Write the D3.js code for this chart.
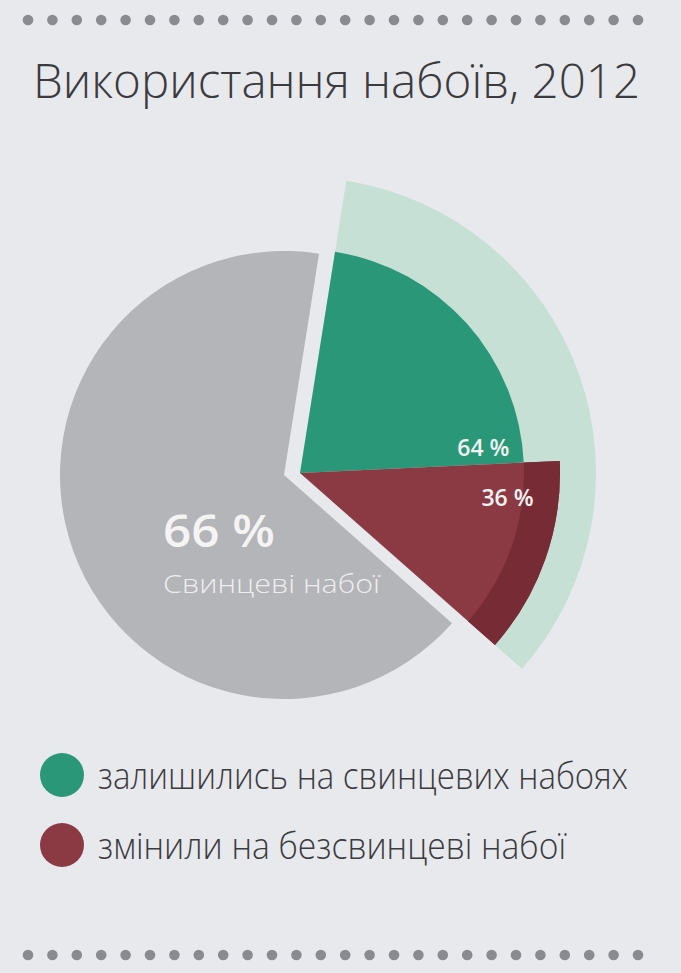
<!DOCTYPE html>
<html>
<head>
  <meta charset="utf-8">
  <script src="https://cdnjs.cloudflare.com/ajax/libs/d3/7.8.5/d3.min.js" type="text/javascript"></script>
  <style>
    body { margin: 0; background: #e8e9ed; }
    svg { display: block; }
  </style>
</head>
<body>
  <svg id="chart" style="width:681px;height:973px;"></svg>
  <script>

var title = "Використання набоїв, 2012";

// main split: lead-free part first, then lead
var mainLabels = ["Безсвинцеві набої", "Свинцеві набої"];
var mainValues = [34, 66];

// breakdown of the 34% slice
var subLabels = ["залишились на свинцевих набоях", "змінили на безсвинцеві набої"];
var subValues = [64, 36];

var width = 681;
var height = 973;
var deg = Math.PI / 180;
var startAt = 9 * deg;

var colors = {
  lead: "#b4b5b8",
  ring: "#c6e0d6",
  sub: ["#2a9878", "#8b3a44"],
  subDark: "#772b34",
  text: "#3b3b3e"
};

var svg = d3.select("#chart")
    .attr("width", width)
    .attr("height", height);

// dotted rules top and bottom
var dotX = d3.scalePoint().domain(d3.range(26)).range([28, 638]);
[20, 955].forEach(function(y) {
  svg.append("g").selectAll("circle")
    .data(dotX.domain())
    .enter().append("circle")
    .attr("cx", function(d) { return dotX(d); })
    .attr("cy", y)
    .attr("r", 5.3)
    .style("fill", "#8a8b90");
});

svg.append("text")
    .attr("x", 33)
    .attr("y", 98)
    .attr("textLength", 607)
    .attr("lengthAdjust", "spacingAndGlyphs")
    .style("font-family", "'Open Sans', sans-serif")
    .style("font-weight", 300)
    .style("font-size", "48px")
    .style("fill", colors.text)
    .text(title);

var pie = d3.pie()
    .sort(null)
    .startAngle(startAt)
    .endAngle(startAt + 2 * Math.PI);

var slices = pie(mainValues);
var free = slices[0];
var lead = slices[1];

// lead slice
var leadG = svg.append("g").attr("transform", "translate(284,475)");
leadG.append("path")
    .attr("d", d3.arc().innerRadius(0).outerRadius(224)(lead))
    .style("fill", colors.lead);

leadG.append("text")
    .attr("x", -121)
    .attr("y", 72)
    .attr("textLength", 112)
    .attr("lengthAdjust", "spacingAndGlyphs")
    .style("font-family", "'Open Sans', sans-serif")
    .style("font-weight", 600)
    .style("font-size", "46px")
    .style("fill", "#f4f4f4")
    .text(lead.value + " %");

leadG.append("text")
    .attr("x", -121)
    .attr("y", 118)
    .attr("textLength", 217)
    .attr("lengthAdjust", "spacingAndGlyphs")
    .style("font-family", "'Open Sans', sans-serif")
    .style("font-weight", 300)
    .style("font-size", "25px")
    .style("fill", "#eeeeee")
    .text(mainLabels[1]);

// exploded slice
var freeG = svg.append("g").attr("transform", "translate(300,473)");
freeG.append("path")
    .attr("d", d3.arc().innerRadius(0).outerRadius(296)(free))
    .style("fill", colors.ring);

var subPie = d3.pie()
    .sort(null)
    .startAngle(free.startAngle)
    .endAngle(free.endAngle);

var subSlices = subPie(subValues);
var subRadius = [224, 260];

freeG.selectAll(".sub")
    .data(subSlices)
    .enter().append("path")
    .attr("class", "sub")
    .attr("d", function(d, i) { return d3.arc().innerRadius(0).outerRadius(subRadius[i])(d); })
    .style("fill", function(d, i) { return colors.sub[i]; });

// part of the red sector that lies over the light ring
freeG.append("path")
    .attr("d", d3.arc().innerRadius(subRadius[0]).outerRadius(subRadius[1])(subSlices[1]))
    .style("fill", colors.subDark);

// value labels near the split between the two sectors
var labelPos = [
  { a: subSlices[0].endAngle - 5 * deg, r: 185 },
  { a: subSlices[1].startAngle + 9.5 * deg, r: 209 }
];
freeG.selectAll(".val")
    .data(subSlices)
    .enter().append("text")
    .attr("class", "val")
    .attr("x", function(d, i) { return labelPos[i].r * Math.sin(labelPos[i].a); })
    .attr("y", function(d, i) { return -labelPos[i].r * Math.cos(labelPos[i].a) + 8; })
    .attr("text-anchor", "middle")
    .style("font-family", "'Open Sans', sans-serif")
    .style("font-weight", 600)
    .style("font-size", "23px")
    .style("fill", "#f2f2f2")
    .text(function(d) { return d.value + " %"; });

// legend
var legend = svg.append("g").selectAll("g")
    .data(subLabels)
    .enter().append("g")
    .attr("transform", function(d, i) { return "translate(62," + (775 + i * 70) + ")"; });

legend.append("circle")
    .attr("r", 22)
    .style("fill", function(d, i) { return colors.sub[i]; });

var legendWidth = [530, 468];
legend.append("text")
    .attr("x", 36)
    .attr("y", 14)
    .attr("textLength", function(d, i) { return legendWidth[i]; })
    .attr("lengthAdjust", "spacingAndGlyphs")
    .style("font-family", "'Open Sans', sans-serif")
    .style("font-weight", 300)
    .style("font-size", "36px")
    .style("fill", colors.text)
    .text(function(d) { return d; });

  </script>
</body>
</html>
